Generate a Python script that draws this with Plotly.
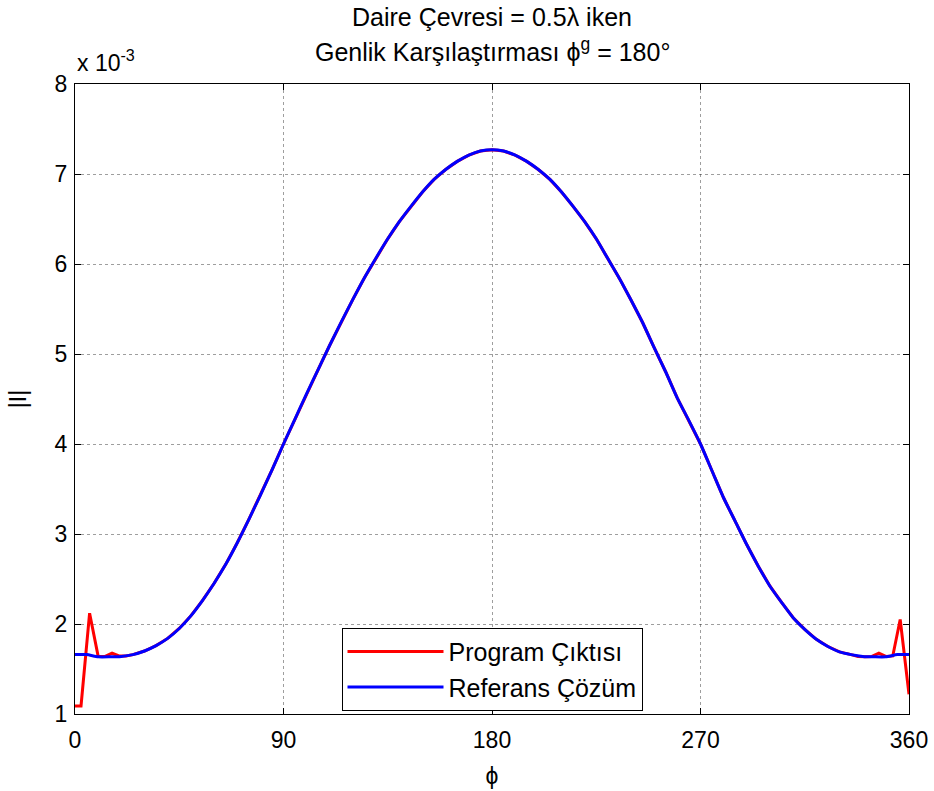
import plotly.graph_objects as go

# Reference solution (Referans Çözüm), values in units of 1e-3
phi_ref = list(range(0, 361, 5))
ref_vals = [1.66, 1.66, 1.635, 1.635, 1.64, 1.66, 1.70, 1.76, 1.84, 1.95,
            2.09, 2.26, 2.45, 2.66, 2.90, 3.16, 3.43, 3.71, 4.00, 4.28,
            4.56, 4.83, 5.10, 5.36, 5.61, 5.85, 6.07, 6.28, 6.47, 6.64,
            6.80, 6.94, 7.05, 7.14, 7.21, 7.255, 7.27,
            7.255, 7.21, 7.14, 7.05, 6.94, 6.80, 6.64, 6.47, 6.28, 6.06,
            5.84, 5.60, 5.35, 5.07, 4.80, 4.51, 4.26, 4.00, 3.70, 3.40,
            3.14, 2.88, 2.64, 2.42, 2.24, 2.07, 1.94, 1.83, 1.75, 1.69,
            1.66, 1.64, 1.635, 1.635, 1.66, 1.66]

# Program output (Program Çıktısı), values in units of 1e-3
phi_prog = [0, 2.6, 6.3, 10, 13, 16, 19, 22,
            25, 30, 35, 40, 45, 50, 55, 60, 65, 70, 75, 80, 85, 90, 95, 100,
            105, 110, 115, 120, 125, 130, 135, 140, 145, 150, 155, 160, 165,
            170, 175, 180, 185, 190, 195, 200, 205, 210, 215, 220, 225, 230,
            235, 240, 245, 250, 255, 260, 265, 270, 275, 280, 285, 290, 295,
            300, 305, 310, 315, 320, 325, 330, 335,
            338, 341, 344, 347, 350, 353, 356.2, 360]
prog_vals = [1.09, 1.09, 2.12, 1.64, 1.64, 1.675, 1.645, 1.645,
             1.66, 1.70, 1.76, 1.84, 1.95, 2.09, 2.26, 2.45, 2.66, 2.90, 3.16,
             3.43, 3.71, 4.00, 4.28, 4.56, 4.83, 5.10, 5.36, 5.61, 5.85, 6.07,
             6.28, 6.47, 6.64, 6.80, 6.94, 7.05, 7.14, 7.21, 7.255, 7.27,
             7.255, 7.21, 7.14, 7.05, 6.94, 6.80, 6.64, 6.47, 6.28, 6.06,
             5.84, 5.60, 5.35, 5.07, 4.80, 4.51, 4.26, 4.00, 3.70, 3.40,
             3.14, 2.88, 2.64, 2.42, 2.24, 2.07, 1.94, 1.83, 1.75, 1.69, 1.66,
             1.64, 1.635, 1.64, 1.675, 1.64, 1.645, 2.05, 1.22]

x_ticks = [0, 90, 180, 270, 360]
y_ticks = [1, 2, 3, 4, 5, 6, 7, 8]

FONT = "Liberation Sans, Arial, sans-serif"
FS = 23      # tick labels / axis titles
FS_T = 25    # title and legend

fig = go.Figure()
fig.add_trace(go.Scatter(x=phi_prog, y=prog_vals, mode="lines",
                         name="Program Çıktısı",
                         line=dict(color="#ff0000", width=3)))
fig.add_trace(go.Scatter(x=phi_ref, y=ref_vals, mode="lines",
                         name="Referans Çözüm",
                         line=dict(color="#0000ff", width=3, shape="spline",
                                   smoothing=0.6)))

axis_common = dict(
    showline=True, linecolor="black", linewidth=1, mirror="ticks",
    ticks="inside", ticklen=6, tickcolor="black",
    showgrid=True, gridcolor="rgba(0,0,0,0.38)", griddash="dot", gridwidth=1,
    zeroline=False,
    tickfont=dict(family=FONT, size=FS, color="black"),
)

fig.update_xaxes(range=[0, 360], tickvals=x_ticks, ticklabelstandoff=5,
                 title=dict(text="ϕ", font=dict(family=FONT, size=FS, color="black"),
                            standoff=16),
                 **axis_common)
fig.update_yaxes(range=[1, 8], tickvals=y_ticks, ticklabelstandoff=2,
                 title=dict(text="|I|", font=dict(family=FONT, size=FS, color="black"),
                            standoff=21),
                 **axis_common)

fig.update_layout(
    width=934, height=791,
    margin=dict(l=75, r=25, t=84, b=76.5, autoexpand=False),
    paper_bgcolor="white", plot_bgcolor="white",
    font=dict(family=FONT, size=FS, color="black"),
    legend=dict(x=0.5, xanchor="center", y=0.005, yanchor="bottom",
                bgcolor="white", bordercolor="black", borderwidth=1,
                font=dict(family=FONT, size=FS_T, color="black"),
                itemwidth=96, tracegroupgap=0),
    showlegend=True,
)

title_lines = ["Daire Çevresi = 0.5λ iken",
               "Genlik Karşılaştırması ϕ<sup>g</sup> = 180°"]
title_y = [1.1063, 1.0539]
for txt, yy in zip(title_lines, title_y):
    fig.add_annotation(text=txt, xref="paper", yref="paper", x=0.5, y=yy,
                       xanchor="center", yanchor="middle", showarrow=False,
                       borderpad=0,
                       font=dict(family=FONT, size=FS_T, color="black"))

fig.add_annotation(text="x 10<sup>-3</sup>", xref="paper", yref="paper",
                   x=0.0, y=1.01, xanchor="left", yanchor="bottom",
                   showarrow=False, font=dict(family=FONT, size=FS, color="black"))

fig.write_html("out.html",
               config={"displayModeBar": False},
               post_script="document.body.style.margin='0';document.body.style.padding='0';")
